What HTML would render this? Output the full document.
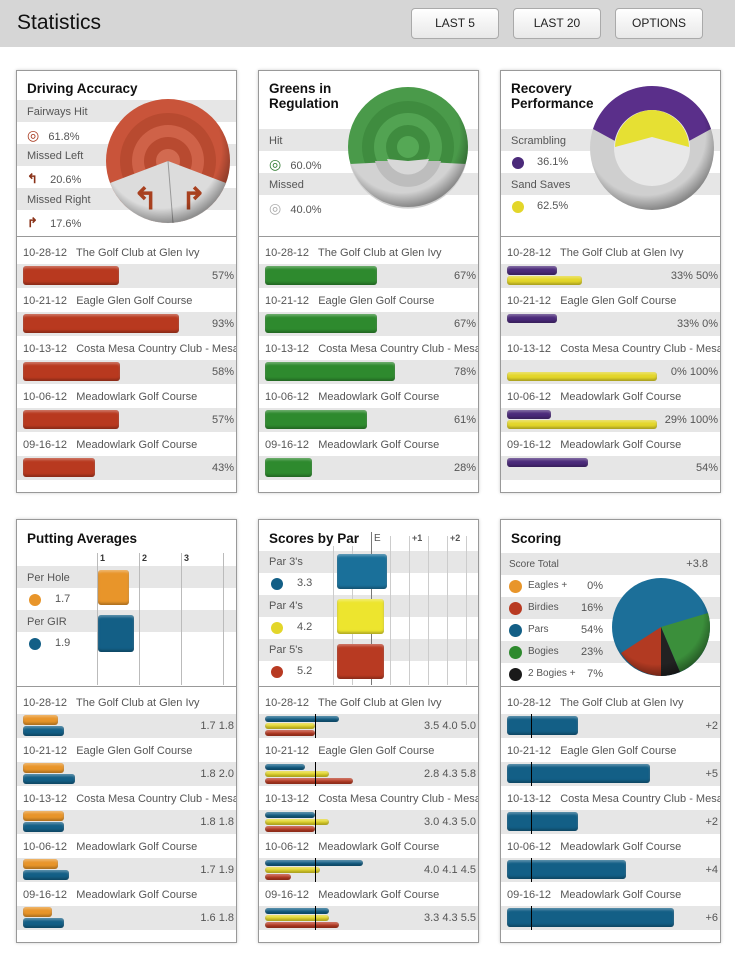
<!DOCTYPE html>
<html><head><meta charset="utf-8">
<style>
*{margin:0;padding:0;box-sizing:border-box}
body{width:735px;height:953px;background:#fff;font-family:"Liberation Sans",Arial,sans-serif;position:relative;overflow:hidden;color:#555}
#hdr{position:absolute;left:0;top:0;width:735px;height:47px;background:#d6d6d6}
#hdr h1{position:absolute;left:17px;top:11px;font-size:21px;font-weight:normal;color:#111}
.btn{position:absolute;top:8px;height:31px;width:88px;border:1px solid #aaa;border-radius:4px;background:linear-gradient(#fff,#e8e8e8);font-size:12px;color:#222;text-align:center;line-height:29px}
.panel{position:absolute;width:221px;border:1px solid #999;background:#fff;box-shadow:0 0 3px #ccc;overflow:hidden}
.title{position:absolute;left:10px;font-weight:bold;font-size:13.5px;color:#111;line-height:15px}
.band{position:absolute;left:0;width:100%;height:22px}
.g{background:#e6e6e6}
.t{position:absolute;font-size:11px;color:#555;white-space:nowrap}
.sep{position:absolute;left:0;width:100%;height:1px;background:#999}
.bar{position:absolute;border-radius:3px;box-shadow:inset 0 -2px 2px rgba(0,0,0,.25),inset 0 2px 2px rgba(255,255,255,.3)}
.dot{position:absolute;width:12px;height:12px;border-radius:50%}
.mk{position:absolute;width:1px;background:#000}
</style></head><body>
<div id="hdr"><h1>Statistics</h1>
<div class="btn" style="left:411px">LAST 5</div>
<div class="btn" style="left:513px">LAST 20</div>
<div class="btn" style="left:615px">OPTIONS</div></div>

<div id="root"></div>
<script>
const R=document.getElementById('root');
function P(x,y,h){const d=document.createElement('div');d.className='panel';d.style.left=x+'px';d.style.top=y+'px';d.style.height=h+'px';R.appendChild(d);return d;}
function add(p,html){p.insertAdjacentHTML('beforeend',html);}
const courses=[["10-28-12","The Golf Club at Glen Ivy"],["10-21-12","Eagle Glen Golf Course"],["10-13-12","Costa Mesa Country Club - Mesa"],["10-06-12","Meadowlark Golf Course"],["09-16-12","Meadowlark Golf Course"]];
function rows(p,start,fn){courses.forEach((c,i)=>{const y=start+i*48;
add(p,`<div class="t" style="left:6px;top:${y+7}px">${c[0]}&nbsp;&nbsp; ${c[1]}</div><div class="band g" style="top:${y+24}px;height:24px"></div>`);fn(p,y+24,i);});}
const ORG='#b8391f',GRN='#2e8a2e',PUR='#4b2a7a',YEL='#e3d62a',BLU='#135f86',ORA='#e8952a';
function bands(p,top,n){for(let i=0;i<n;i++)add(p,`<div class="band ${i%2?'':'g'}" style="top:${top+i*22}px"></div>`);}

// Driving
let p=P(16,70,423);
bands(p,29,6);
add(p,`<div class="title" style="top:10px">Driving Accuracy</div>
<div class="t" style="left:10px;top:35px">Fairways Hit</div>
<div class="t" style="left:10px;top:79px">Missed Left</div>
<div class="t" style="left:10px;top:123px">Missed Right</div>
<div class="t" style="left:10px;top:56px"><span style="color:#a83a20;font-size:14px">◎</span>&nbsp;&nbsp;&nbsp;61.8%</div>
<div class="t" style="left:10px;top:100px"><span style="color:#8a3218;font-weight:bold;font-size:13px">↰</span>&nbsp;&nbsp;&nbsp;&nbsp;20.6%</div>
<div class="t" style="left:10px;top:144px"><span style="color:#8a3218;font-weight:bold;font-size:13px">↱</span>&nbsp;&nbsp;&nbsp;&nbsp;17.6%</div>
<svg style="position:absolute;left:88px;top:26px" width="130" height="130"><defs><radialGradient id="sh" cx="45%" cy="40%" r="60%"><stop offset="80%" stop-color="#000" stop-opacity="0"/><stop offset="100%" stop-color="#000" stop-opacity=".35"/></radialGradient></defs>
<circle cx="63" cy="64" r="62" fill="#c9543a"/><circle cx="63" cy="64" r="48" fill="#b84a30"/><circle cx="63" cy="64" r="36" fill="#cf6248"/><circle cx="63" cy="64" r="24" fill="#b84a30"/><circle cx="63" cy="64" r="12" fill="#d26a50"/>
<path d="M63 64 L5 86 A62 62 0 0 0 121 86 Z" fill="#dcdcdc"/><line x1="63" y1="64" x2="68" y2="126" stroke="#999"/>
<text x="28" y="112" font-size="30" fill="#a8401f" font-weight="bold">↰</text><text x="76" y="112" font-size="30" fill="#a8401f" font-weight="bold">↱</text>
<circle cx="63" cy="64" r="62" fill="url(#sh)"/></svg>
<div class="sep" style="top:165px"></div>`);
rows(p,169,(p,y,i)=>{const v=[57,93,58,57,43][i];add(p,`<div class="bar" style="left:6px;top:${y+2}px;width:${v*1.68}px;height:19px;background:${ORG}"></div><div class="t" style="right:2px;top:${y+6}px">${v}%</div>`);});

// Greens
p=P(258,70,423);
bands(p,58,4);
add(p,`<div class="title" style="top:10px">Greens in<br>Regulation</div>
<div class="t" style="left:10px;top:64px">Hit</div><div class="t" style="left:10px;top:108px">Missed</div>
<div class="t" style="left:10px;top:85px"><span style="color:#2e7a2e;font-size:14px">◎</span>&nbsp;&nbsp;&nbsp;60.0%</div>
<div class="t" style="left:10px;top:129px"><span style="color:#aaa;font-size:14px">◎</span>&nbsp;&nbsp;&nbsp;40.0%</div>
<svg style="position:absolute;left:88px;top:14px" width="124" height="124">
<circle cx="61" cy="62" r="60" fill="#4a9a4a"/><circle cx="61" cy="62" r="46" fill="#3f8c3f"/><circle cx="61" cy="62" r="34" fill="#52a352"/><circle cx="61" cy="62" r="22" fill="#3f8c3f"/><circle cx="61" cy="62" r="11" fill="#55a855"/>
<path d="M61 76 L3 79 A60 60 0 0 0 119 79 Z" fill="#d2d2d2"/><path d="M61 76 L28 76 A34 34 0 0 0 94 76 Z" fill="#bdbdbd"/><path d="M61 76 L40 74 A22 22 0 0 0 82 74 Z" fill="#d8d8d8"/>
<circle cx="61" cy="62" r="60" fill="url(#sh)"/></svg>
<div class="sep" style="top:165px"></div>`);
rows(p,169,(p,y,i)=>{const v=[67,67,78,61,28][i];add(p,`<div class="bar" style="left:6px;top:${y+2}px;width:${v*1.67}px;height:19px;background:${GRN}"></div><div class="t" style="right:2px;top:${y+6}px">${v}%</div>`);});

// Recovery
p=P(500,70,423);
bands(p,58,4);
add(p,`<div class="title" style="top:10px">Recovery<br>Performance</div>
<div class="t" style="left:10px;top:64px">Scrambling</div><div class="t" style="left:10px;top:108px">Sand Saves</div>
<div class="dot" style="left:11px;top:86px;background:${PUR}"></div><div class="t" style="left:36px;top:85px">36.1%</div>
<div class="dot" style="left:11px;top:130px;background:${YEL}"></div><div class="t" style="left:36px;top:129px">62.5%</div>
<svg style="position:absolute;left:88px;top:14px" width="126" height="126">
<circle cx="63" cy="63" r="62" fill="#cfcfcf"/><path d="M4 44 A62 62 0 0 1 122 44 L100 56 A40 40 0 0 0 26 56 Z" fill="#5a2f8a"/>
<circle cx="63" cy="63" r="38" fill="#e8e8e8"/><path d="M63 52 L26 62 A38 38 0 0 1 63 25 A38 38 0 0 1 100 62 Z" fill="#e6e033"/>
<circle cx="63" cy="63" r="62" fill="url(#sh)"/></svg>
<div class="sep" style="top:165px"></div>`);
rows(p,169,(p,y,i)=>{const a=[[33,50],[33,0],[0,100],[29,100],[54,null]][i];
if(a[0])add(p,`<div class="bar" style="left:6px;top:${y+2}px;width:${a[0]*1.5}px;height:9px;background:${PUR}"></div>`);
if(a[1])add(p,`<div class="bar" style="left:6px;top:${y+12}px;width:${a[1]*1.5}px;height:9px;background:${YEL}"></div>`);
add(p,`<div class="t" style="right:2px;top:${y+6}px">${a[0]}%${a[1]!==null?' '+a[1]+'%':''}</div>`);});

// Putting
p=P(16,519,424);
bands(p,46,4);
add(p,`<div class="title" style="top:11px">Putting Averages</div>`);
[80,122,164,206].forEach((x,i)=>add(p,`<div style="position:absolute;left:${x}px;top:33px;width:1px;height:132px;background:#bbb"></div>`+(i<3?`<div class="t" style="left:${x+3}px;top:33px;font-size:9px;font-weight:bold;color:#333">${i+1}</div>`:'')));
add(p,`<div class="t" style="left:10px;top:52px">Per Hole</div><div class="t" style="left:10px;top:96px">Per GIR</div>
<div class="dot" style="left:12px;top:74px;background:${ORA}"></div><div class="t" style="left:38px;top:73px">1.7</div>
<div class="dot" style="left:12px;top:118px;background:${BLU}"></div><div class="t" style="left:38px;top:117px">1.9</div>
<div class="bar" style="left:81px;top:50px;width:31px;height:35px;background:${ORA}"></div>
<div class="bar" style="left:81px;top:95px;width:36px;height:37px;background:${BLU}"></div>
<div class="sep" style="top:166px"></div>`);
rows(p,170,(p,y,i)=>{const a=[[1.7,1.8],[1.8,2.0],[1.8,1.8],[1.7,1.9],[1.6,1.8]][i];const w=v=>(v-1.1)*58;
add(p,`<div class="bar" style="left:6px;top:${y+1}px;width:${w(a[0])}px;height:10px;background:${ORA}"></div><div class="bar" style="left:6px;top:${y+12}px;width:${w(a[1])}px;height:10px;background:${BLU}"></div><div class="t" style="right:2px;top:${y+6}px">${a[0].toFixed(1)} ${a[1].toFixed(1)}</div>`);});

// Scores by par
p=P(258,519,424);
bands(p,31,6);
[74,93,112,131,150,169,188,207].forEach((x,i)=>add(p,`<div style="position:absolute;left:${x}px;top:${i==2?12:16}px;width:1px;height:${i==2?153:149}px;background:${i==2?'#777':'#ccc'}"></div>`));
add(p,`<div class="title" style="top:11px;background:#fff;padding-right:2px">Scores by Par</div>
<div class="t" style="left:115px;top:13px;font-size:10px">E</div><div class="t" style="left:153px;top:13px;font-size:9px;font-weight:bold">+1</div><div class="t" style="left:191px;top:13px;font-size:9px;font-weight:bold">+2</div>
<div class="t" style="left:10px;top:36px">Par 3's</div><div class="t" style="left:10px;top:80px">Par 4's</div><div class="t" style="left:10px;top:124px">Par 5's</div>
<div class="dot" style="left:12px;top:58px;background:${BLU}"></div><div class="t" style="left:38px;top:57px">3.3</div>
<div class="dot" style="left:12px;top:102px;background:${YEL}"></div><div class="t" style="left:38px;top:101px">4.2</div>
<div class="dot" style="left:12px;top:146px;background:#b83a22"></div><div class="t" style="left:38px;top:145px">5.2</div>
<div class="bar" style="left:78px;top:34px;width:50px;height:35px;background:#1a709a"></div>
<div class="bar" style="left:78px;top:79px;width:47px;height:35px;background:#ede52e"></div>
<div class="bar" style="left:78px;top:124px;width:47px;height:35px;background:#b83a22"></div>
<div class="sep" style="top:166px"></div>`);
rows(p,170,(p,y,i)=>{const a=[[3.5,4.0,5.0],[2.8,4.3,5.8],[3.0,4.3,5.0],[4.0,4.1,4.5],[3.3,4.3,5.5]][i];const pars=[3,4,5],cols=[BLU,YEL,'#b83a22'];
a.forEach((v,j)=>add(p,`<div class="bar" style="left:6px;top:${y+2+j*7}px;width:${50+(v-pars[j])*48}px;height:6px;background:${cols[j]}"></div>`));
add(p,`<div class="mk" style="left:56px;top:${y}px;height:24px"></div><div class="t" style="right:2px;top:${y+6}px">${a.map(v=>v.toFixed(1)).join(' ')}</div>`);});

// Scoring
p=P(500,519,424);
bands(p,33,6);
add(p,`<div class="title" style="top:11px">Scoring</div>
<div class="t" style="left:8px;top:39px;font-size:10px">Score Total</div><div class="t" style="right:12px;top:38px">+3.8</div>`);
[["Eagles +",ORA,"0%"],["Birdies","#b83a22","16%"],["Pars",BLU,"54%"],["Bogies",GRN,"23%"],["2 Bogies +","#1a1a1a","7%"]].forEach((r,i)=>{const y=55+i*22;
add(p,`<div class="dot" style="left:8px;top:${y+5}px;width:13px;height:13px;background:${r[1]}"></div><div class="t" style="left:27px;top:${y+5}px;font-size:10px">${r[0]}</div><div class="t" style="left:72px;top:${y+5}px;width:30px;text-align:right">${r[2]}</div>`);});
add(p,`<svg style="position:absolute;left:110px;top:56px" width="100" height="102">
<circle cx="50" cy="51" r="49" fill="#1c6f99"/>
<path d="M50 51 L97 37 A49 49 0 0 1 69 96 Z" fill="#3b8f3b"/>
<path d="M50 51 L69 96 A49 49 0 0 1 50 100 Z" fill="#222"/>
<path d="M50 51 L50 100 A49 49 0 0 1 10 77 Z" fill="#b23a22"/>
<circle cx="50" cy="51" r="49" fill="url(#sh)"/></svg>
<div class="sep" style="top:166px"></div>`);
rows(p,170,(p,y,i)=>{const v=[2,5,2,4,6][i];
add(p,`<div class="bar" style="left:6px;top:${y+2}px;width:${23+v*24}px;height:19px;background:${BLU}"></div><div class="mk" style="left:30px;top:${y}px;height:24px"></div><div class="t" style="right:2px;top:${y+6}px">+${v}</div>`);});
</script>
</body></html>
